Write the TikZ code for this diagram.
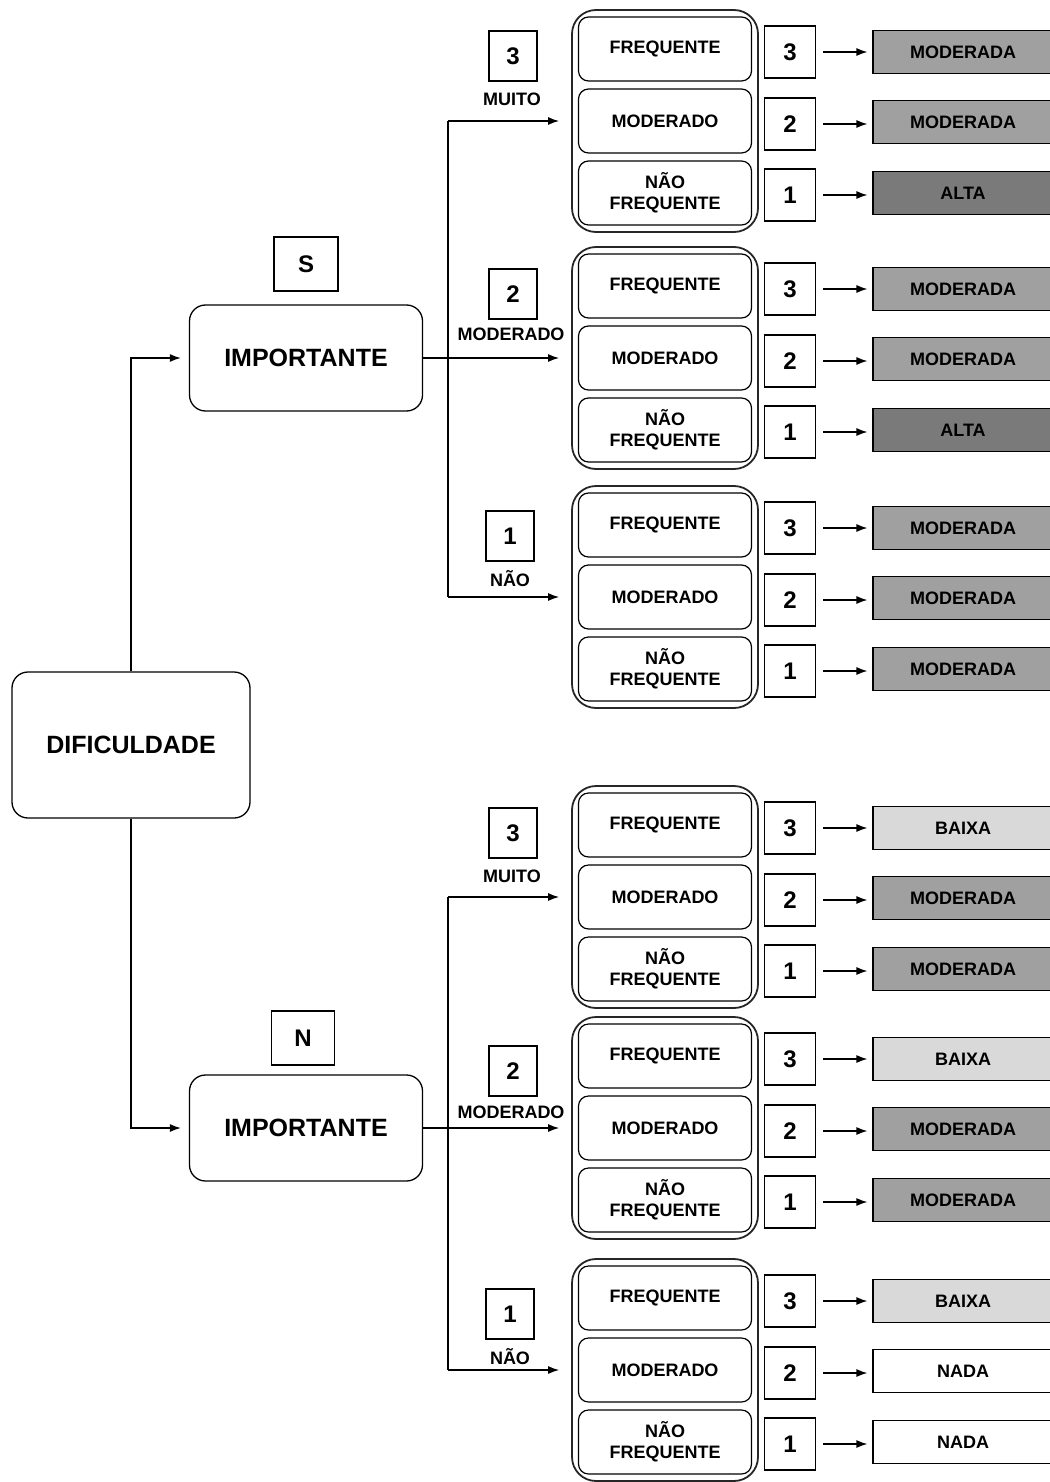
\documentclass[tikz,border=0pt]{standalone}
\usepackage{fontspec}
\setmainfont{Liberation Sans}
\usetikzlibrary{arrows.meta}

\definecolor{baixa}{HTML}{D9D9D9}
\definecolor{moder}{HTML}{A0A0A0}
\definecolor{alta}{HTML}{7A7A7A}

\tikzset{
  bigbox/.style={shape=rectangle,rounded corners=16pt,draw=black,line width=1.3pt,font=\fontsize{25}{27}\selectfont\bfseries},
  grp/.style={shape=rectangle,rounded corners=24pt,draw=black!85,line width=1.8pt,minimum width=186pt,minimum height=222pt},
  inbox/.style={shape=rectangle,rounded corners=10pt,draw=black,line width=1.2pt,minimum width=173pt,minimum height=64pt,align=center,font=\fontsize{18}{21}\selectfont\bfseries},
  numbox/.style={shape=rectangle,draw=black,line width=1.2pt,minimum width=51pt,minimum height=52pt,font=\fontsize{24}{26}\selectfont\bfseries},
  lblbox/.style={shape=rectangle,draw=black,line width=1.2pt,minimum width=48pt,minimum height=50pt,font=\fontsize{24}{26}\selectfont\bfseries},
  lbl/.style={draw=none,font=\fontsize{18}{20}\selectfont\bfseries},
  res/.style={shape=rectangle,draw=black,line width=1.2pt,minimum width=180pt,minimum height=43pt,font=\fontsize{18}{20}\selectfont\bfseries}
}

\begin{document}
\begin{tikzpicture}[x=1pt,y=-1pt,>={Latex[length=11pt,width=8pt]},line width=1.3pt]
        \useasboundingbox (0,0) rectangle (1049,1482);

        % root and the two IMPORTANTE boxes
        \node[bigbox,minimum width=238pt,minimum height=146pt] (dif) at (131,745) {DIFICULDADE};
        \node[bigbox,minimum width=233pt,minimum height=106pt] (impS) at (306,358) {IMPORTANTE};
        \node[bigbox,minimum width=233pt,minimum height=106pt] (impN) at (306,1128) {IMPORTANTE};
        \node[lblbox,minimum width=64pt,minimum height=54pt] (s) at (306,264) {S};
        \node[lblbox,minimum width=63pt,minimum height=54pt] (n) at (303,1038) {N};

        \draw[->,shorten >=8pt] (dif.north) |- (impS.west);
        \draw[->,shorten >=8pt] (dif.south) |- (impN.west);

        % groups: frequency boxes, scores and results
        \foreach \g/\cy/\ra/\ca/\rb/\cb/\rc/\cc in {
            1/121/MODERADA/moder/MODERADA/moder/ALTA/alta,
            2/358/MODERADA/moder/MODERADA/moder/ALTA/alta,
            3/597/MODERADA/moder/MODERADA/moder/MODERADA/moder,
            4/897/BAIXA/baixa/MODERADA/moder/MODERADA/moder,
            5/1128/BAIXA/baixa/MODERADA/moder/MODERADA/moder,
            6/1370/BAIXA/baixa/NADA/white/NADA/white}{
          \node[grp] (grp\g) at (665,\cy) {};
          \node[inbox] (fr\g) at (665,\cy-72) {FREQUENTE};
          \node[inbox] (mo\g) at (665,\cy) {MODERADO};
          \node[inbox] (nf\g) at (665,\cy+72) {NÃO\\FREQUENTE};
          \node[numbox] (na\g) at (790,\cy-69) {3};
          \node[numbox] (nb\g) at (790,\cy+3) {2};
          \node[numbox] (nc\g) at (790,\cy+74) {1};
          \node[res,fill=\ca] (ra\g) at (963,\cy-69) {\ra};
          \node[res,fill=\cb] (rb\g) at (963,\cy+1) {\rb};
          \node[res,fill=\cc] (rc\g) at (963,\cy+72) {\rc};
          \path [->,shorten <=7pt,shorten >=5pt] (na\g) edge (ra\g.west |- na\g);
          \path [->,shorten <=7pt,shorten >=5pt] (nb\g) edge (rb\g.west |- nb\g);
          \path [->,shorten <=7pt,shorten >=5pt] (nc\g) edge (rc\g.west |- nc\g);
        }

        % branches of IMPORTANTE = S
        \coordinate (vS) at (448,358);
        \draw (grp1.west -| vS) -- (grp3.west -| vS);
        \path [->,shorten >=12pt] (grp1.west -| vS) edge (grp1.west);
        \path [->,shorten >=12pt] (impS.east) edge (grp2.west);
        \path [->,shorten >=12pt] (grp3.west -| vS) edge (grp3.west);
        \node[lblbox] (m3S) at (513,56) {3};
        \node[lbl] (muitoS) at (512,99) {MUITO};
        \node[lblbox] (m2S) at (513,294) {2};
        \node[lbl] (modS) at (511,334) {MODERADO};
        \node[lblbox] (m1S) at (510,536) {1};
        \node[lbl] (naoS) at (510,579) {NÃO};

        % branches of IMPORTANTE = N
        \coordinate (vN) at (448,1128);
        \draw (grp4.west -| vN) -- (grp6.west -| vN);
        \path [->,shorten >=12pt] (grp4.west -| vN) edge (grp4.west);
        \path [->,shorten >=12pt] (impN.east) edge (grp5.west);
        \path [->,shorten >=12pt] (grp6.west -| vN) edge (grp6.west);
        \node[lblbox] (m3N) at (513,833) {3};
        \node[lbl] (muitoN) at (512,876) {MUITO};
        \node[lblbox] (m2N) at (513,1071) {2};
        \node[lbl] (modN) at (511,1112) {MODERADO};
        \node[lblbox] (m1N) at (510,1314) {1};
        \node[lbl] (naoN) at (510,1357) {NÃO};
\end{tikzpicture}
\end{document}
